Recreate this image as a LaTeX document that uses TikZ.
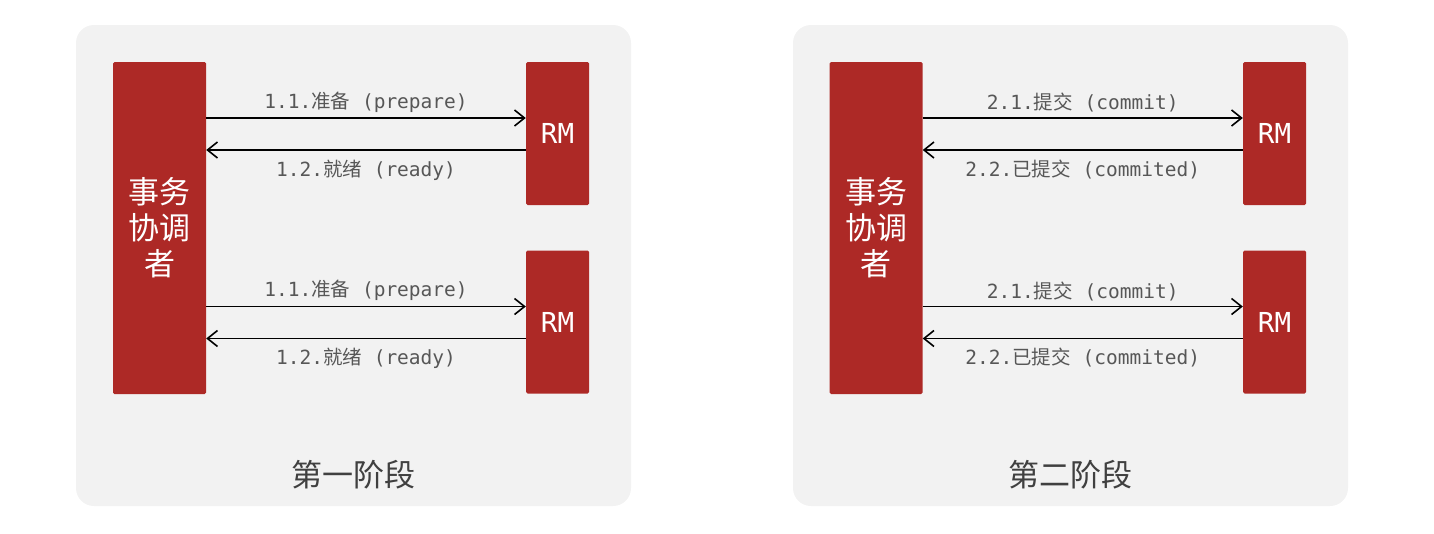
\documentclass[tikz,border=0pt]{standalone}
\usepackage{fontspec}
\setmainfont{Noto Sans CJK SC}
\setmonofont{DejaVu Sans Mono}
\newfontfamily\cjk{Noto Sans CJK SC}
\usetikzlibrary{arrows.meta,positioning}
\definecolor{tmred}{HTML}{AD2926}
\definecolor{pane}{HTML}{F2F2F2}
\definecolor{ink}{HTML}{575757}
\definecolor{capink}{HTML}{404040}
\tikzset{
  panel/.style={rectangle, rounded corners=18pt, fill=pane, minimum width=555, minimum height=481},
  tm/.style={rectangle, rounded corners=1.5pt, fill=tmred, text=white, align=center, inner sep=0pt,
             minimum width=93, minimum height=332, font=\cjk\fontsize{31}{36}\selectfont},
  rm/.style={rectangle, rounded corners=1.5pt, fill=tmred, text=white, inner sep=0pt,
             minimum width=63, minimum height=143, font=\ttfamily\fontsize{27.5}{30}\selectfont},
  fl/.style={-{Straight Barb[length=10pt,width=16pt,line width=1.6pt]}, draw=black, line width=1.7pt},
  lbl/.style={font=\ttfamily\fontsize{19.5}{22}\selectfont, text=ink, inner sep=0pt},
  caption/.style={font=\cjk\fontsize{31}{36}\selectfont, text=capink}
}
\newcommand{\zh}[1]{{\cjk #1}}

\begin{document}
\begin{tikzpicture}[x=1pt,y=-1pt]
  \useasboundingbox (0,0) rectangle (1434,533);
  % phase one
  \node[panel] (p1) at (353.5,265.5) {};
  \node[tm] (tm1) at (159.5,228) {事务\\协调\\者};
  \node[rm] (rm11) at (557.5,133.5) {RM};
  \node[rm] (rm12) at (557.5,322) {RM};
  \node[caption] (cap1) at (353.5,475) {第一阶段};
  % phase two
  \node[panel] (p2) at (1070.5,265.5) {};
  \node[tm] (tm2) at (876,228) {事务\\协调\\者};
  \node[rm] (rm21) at (1274.5,133.5) {RM};
  \node[rm] (rm22) at (1274.5,322) {RM};
  \node[caption] (cap2) at (1070.5,475) {第二阶段};
  % messages
  \foreach \t/\r/\go/\back in {tm1/rm11/1.1.\zh{准备} (prepare)/1.2.\zh{就绪} (ready),
                              tm1/rm12/1.1.\zh{准备} (prepare)/1.2.\zh{就绪} (ready),
                              tm2/rm21/2.1.\zh{提交} (commit)/2.2.\zh{已提交} (commited),
                              tm2/rm22/2.1.\zh{提交} (commit)/2.2.\zh{已提交} (commited)} {
    \path ([yshift=15.5pt]\r.west) coordinate (\r in)
          ([yshift=-16.5pt]\r.west) coordinate (\r out);
    \draw[fl] (\t.east |- \r in) -- node[lbl, above=5pt] {\go} (\r in);
    \draw[fl] (\r out) -- node[lbl, below=9pt] {\back} (\t.east |- \r out);
  }
\end{tikzpicture}
\end{document}
